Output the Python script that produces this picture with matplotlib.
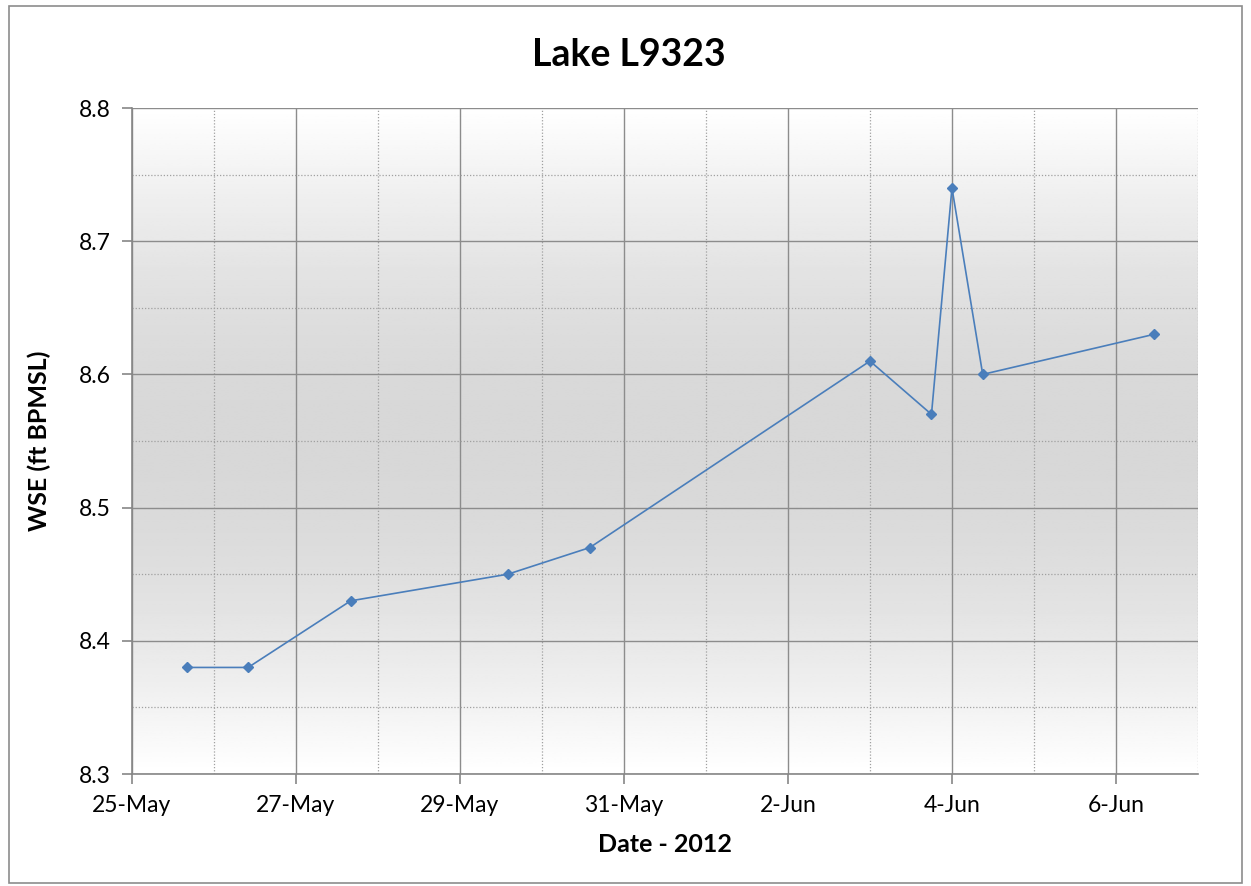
import numpy as np
import pandas as pd
import matplotlib
matplotlib.use("Agg")
import matplotlib.pyplot as plt
import matplotlib.dates as mdates
from matplotlib.patches import Rectangle

plt.rcParams['font.family'] = ['Lato', 'DejaVu Sans']

# data
dates = pd.to_datetime([
    "2012-05-25 16:00", "2012-05-26 10:00", "2012-05-27 16:00",
    "2012-05-29 14:00", "2012-05-30 14:00", "2012-06-03 00:00",
    "2012-06-03 18:00", "2012-06-04 00:00", "2012-06-04 09:00",
    "2012-06-06 11:00",
])
wse = [8.38, 8.38, 8.43, 8.45, 8.47, 8.61, 8.57, 8.74, 8.60, 8.63]

title = "Lake L9323"
xlabel = "Date - 2012"
ylabel = "WSE (ft BPMSL)"

fig = plt.figure(figsize=(12.51, 8.86), dpi=100)
ax = fig.add_axes([0.1055, 0.1264, 0.8521, 0.7517])

# outer chart border
fig.patches.append(Rectangle((0.007, 0.003), 0.986, 0.99, transform=fig.transFigure,
                             fill=False, edgecolor="#8c8c8c", linewidth=1.2))

# vertical gradient background: white - grey - white
t = np.linspace(0, 1, 256)
shade = 1.0 - 0.155 * np.sin(np.pi * t)
grad = np.tile(shade[:, None], (1, 2))
ax.imshow(grad, cmap="gray", vmin=0, vmax=1, aspect="auto",
          extent=[0, 1, 0, 1], transform=ax.transAxes, zorder=0)

ax.plot(dates, wse, color="#4a7ebb", linewidth=1.2, marker="D", markersize=5.5,
        markeredgecolor="#4a7ebb", markerfacecolor="#4a7ebb", zorder=3)

ax.set_xlim(pd.Timestamp("2012-05-25"), pd.Timestamp("2012-06-07"))
ax.set_ylim(8.3, 8.8)

ax.xaxis.set_major_locator(mdates.DayLocator(bymonthday=[25, 27, 29, 31, 2, 4, 6]))
ax.xaxis.set_minor_locator(mdates.DayLocator())
ax.xaxis.set_major_formatter(mdates.DateFormatter("%-d-%b"))
ax.set_yticks(np.arange(8.3, 8.81, 0.1))
ax.set_yticks(np.arange(8.35, 8.8, 0.1), minor=True)
ax.yaxis.set_major_formatter(matplotlib.ticker.FormatStrFormatter("%.1f"))

ax.grid(which="major", color="#8c8c8c", linewidth=1.0, linestyle="-", zorder=1)
ax.grid(which="minor", color="#a0a0a0", linewidth=0.9, linestyle=(0, (1, 1.5)), zorder=1)
ax.set_axisbelow(True)

for s in ["top", "right"]:
    ax.spines[s].set_visible(False)
for s in ["left", "bottom"]:
    ax.spines[s].set_color("#868686")
    ax.spines[s].set_linewidth(1.2)

ax.tick_params(axis="both", which="major", direction="out", color="#868686",
               labelsize=16.5, length=7, width=1.2, pad=8)
ax.tick_params(axis="both", which="minor", length=0)

fig.text(0.503, 0.938, title, fontsize=27, fontweight="bold", ha="center", va="center")
ax.set_xlabel(xlabel, fontsize=18, fontweight="bold", labelpad=12)
ax.set_ylabel(ylabel, fontsize=18, fontweight="bold", labelpad=20)

fig.savefig("out.png", dpi=100)
